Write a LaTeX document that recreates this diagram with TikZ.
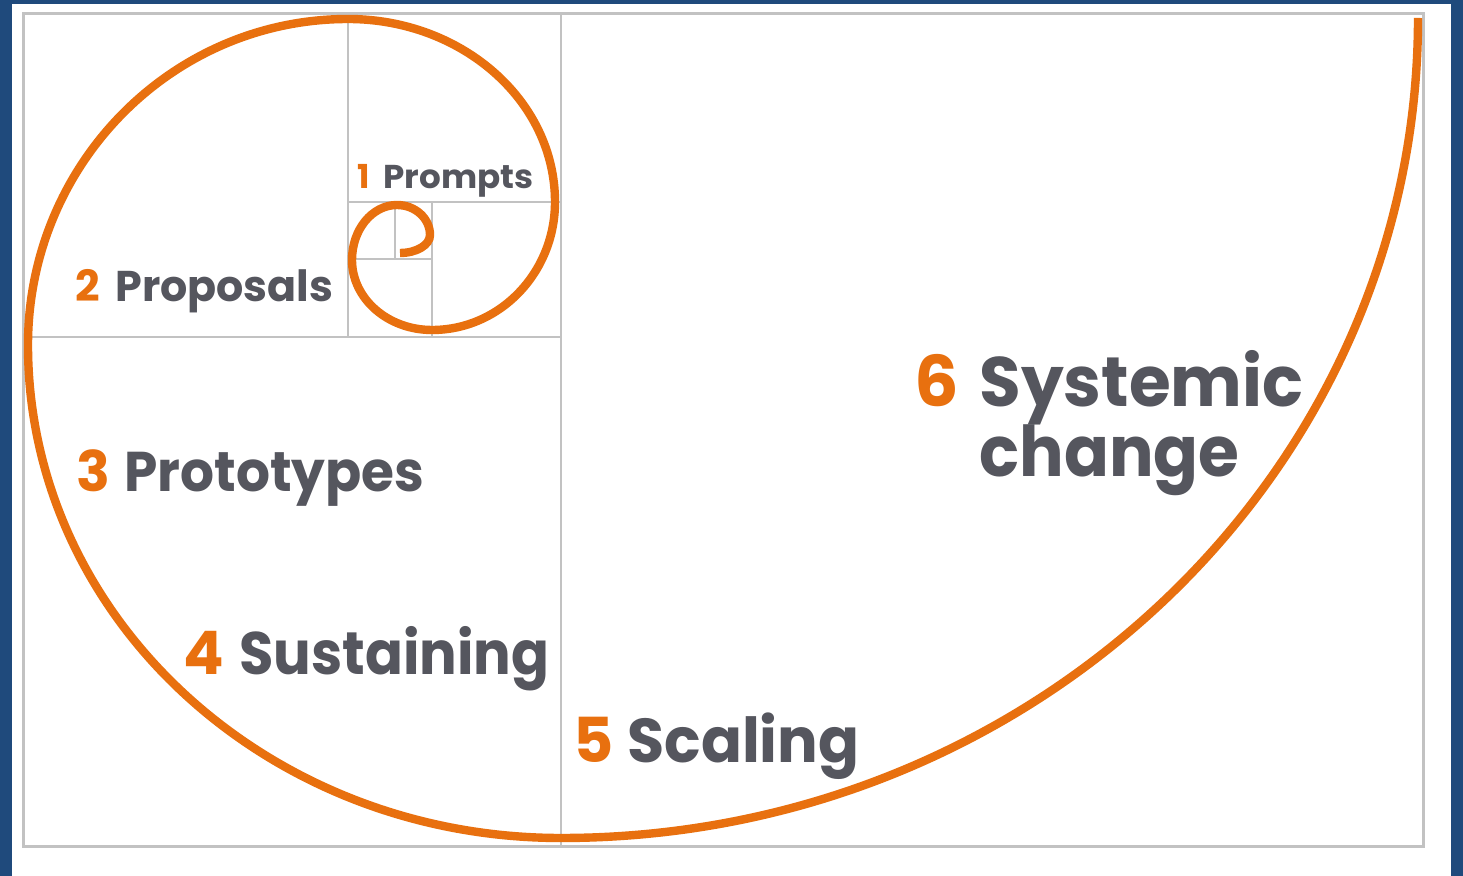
\documentclass[tikz,border=0pt]{standalone}
\usepackage{fontspec}
\setmainfont{Poppins}
\definecolor{frameblue}{HTML}{1F4A7C}
\definecolor{spiral}{HTML}{E8700F}
\definecolor{gridgray}{HTML}{C2C2C2}
\definecolor{txtgray}{HTML}{55565E}
\tikzset{
  gridline/.style={draw=gridgray, line width=1pt},
  spiralline/.style={draw=spiral, line width=4.2pt},
  label/.style={anchor=base west, inner sep=0pt, text=txtgray},
  numlabel/.style={anchor=base west, inner sep=0pt, text=spiral},
}
\newcommand{\fsz}[1]{\bfseries\fontsize{#1}{#1}\selectfont}
\newcommand{\fitw}[2]{\resizebox{#1}{\height}{#2}}
\begin{document}
\begin{tikzpicture}[x=0.5pt, y=-0.5pt]
\useasboundingbox (0,0) rectangle (1463,876);
\fill[white] (0,0) rectangle (1463,876);
\fill[frameblue] (0,0) rectangle (12,876);
\fill[frameblue] (0,0) rectangle (1463,4);
\fill[frameblue] (1451,0) rectangle (1463,876);
% frame
\draw[draw=gridgray, line width=1.5pt] (23,14) rectangle (1423,847);
% grid
\draw[gridline] (561,14) -- (561,847);
\draw[gridline] (23,337) -- (561,337);
\draw[gridline] (348,14) -- (348,337);
\draw[gridline] (348,202) -- (561,202);
\draw[gridline] (432,202) -- (432,337);
\draw[gridline] (348,259) -- (432,259);
\draw[gridline] (395,202) -- (395,259);
% spiral
\draw[spiralline] (1418,18)
  .. controls (1418,470.9) and (1034.3,838) .. (561,838)
  .. controls (266.6,838) and (28,617.3) .. (28,345)
  .. controls (28,165) and (171.3,19) .. (348,19)
  .. controls (462.3,19) and (555,100.9) .. (555,202)
  .. controls (555,272.7) and (499.9,330) .. (432,330)
  .. controls (387.8,330) and (352,298.7) .. (352,260)
  .. controls (352,229.6) and (372.1,205) .. (397,205)
  .. controls (415.2,205) and (430,218.4) .. (430,235)
  .. controls (430,244.9) and (416.6,253) .. (400,253);
% labels
\node[numlabel, font=\fsz{16.5pt}] (n1) at (357,189) {1};
\node[label, font=\fsz{16.5pt}] (w1) at (383,189) {\fitw{75pt}{Prompts}};
\node[numlabel, font=\fsz{21.5pt}] (n2) at (75,302) {2};
\node[label, font=\fsz{21.5pt}] (w2) at (115,302) {\fitw{109pt}{Proposals}};
\node[numlabel, font=\fsz{28pt}] (n3) at (76,492) {3};
\node[label, font=\fsz{28pt}] (w3) at (124,492) {\fitw{150pt}{Prototypes}};
\node[numlabel, font=\fsz{30pt}] (n4) at (183,675) {4};
\node[label, font=\fsz{30pt}] (w4) at (239,675) {\fitw{155pt}{Sustaining}};
\node[numlabel, font=\fsz{31pt}] (n5) at (573,763) {5};
\node[label, font=\fsz{31pt}] (w5) at (627,763) {\fitw{116pt}{Scaling}};
\node[numlabel, font=\fsz{35pt}] (n6) at (914,407) {6};
\node[label, font=\fsz{35pt}] (w6) at (979,407) {\fitw{162pt}{Systemic}};
\node[label, font=\fsz{35pt}] (w6b) at (979,477) {\fitw{130pt}{change}};
\end{tikzpicture}
\end{document}
